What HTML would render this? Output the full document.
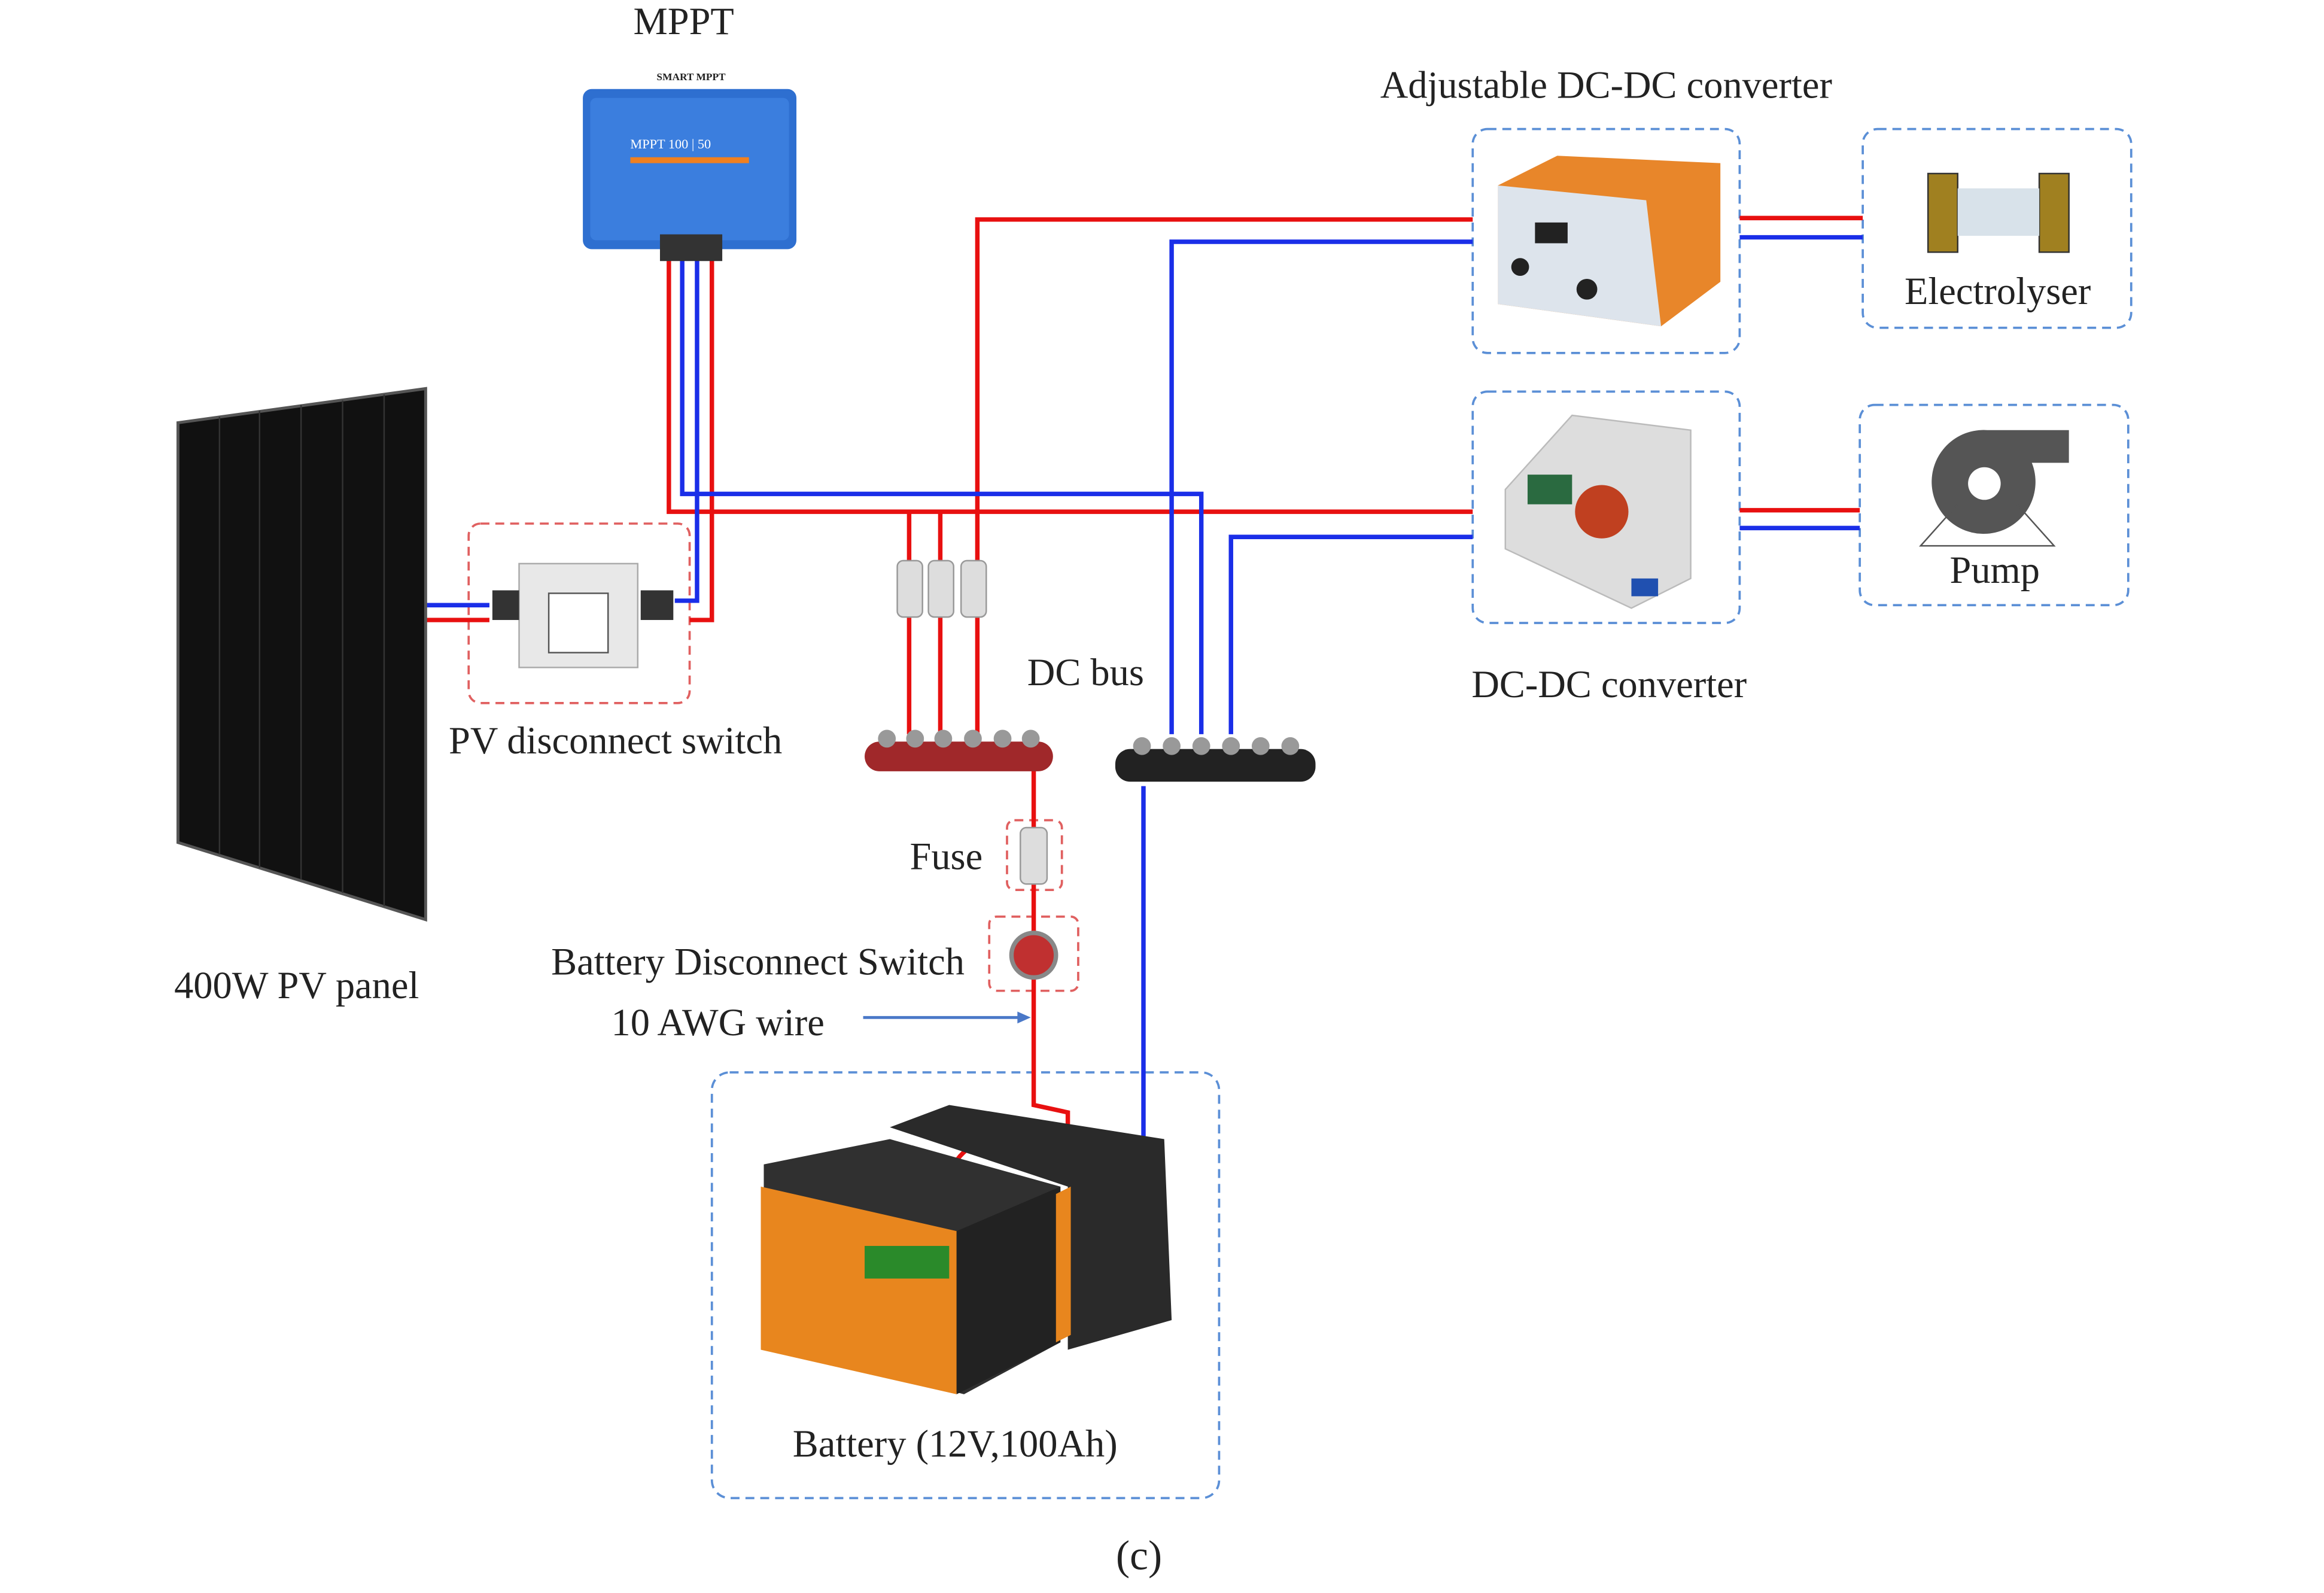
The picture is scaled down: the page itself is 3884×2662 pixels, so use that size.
<!DOCTYPE html>
<html><head><meta charset="utf-8"><style>
html,body{margin:0;padding:0;background:#fff;}
svg{display:block;}
text{font-family:"Liberation Serif",serif;fill:#222;}
</style></head><body>
<svg width="3884" height="2662" viewBox="0 0 1567 1074" preserveAspectRatio="none" xmlns="http://www.w3.org/2000/svg">
<rect width="1567" height="1074" fill="#fff"/>
<g font-size="26">
<text x="461" y="23" text-anchor="middle">MPPT</text>
<text x="1083" y="66" text-anchor="middle">Adjustable DC-DC converter</text>
<text x="1347" y="205" text-anchor="middle">Electrolyser</text>
<text x="1085" y="470" text-anchor="middle">DC-DC converter</text>
<text x="1345" y="393" text-anchor="middle">Pump</text>
<text x="200" y="673" text-anchor="middle">400W PV panel</text>
<text x="415" y="508" text-anchor="middle">PV disconnect switch</text>
<text x="732" y="462" text-anchor="middle">DC bus</text>
<text x="638" y="586" text-anchor="middle">Fuse</text>
<text x="511" y="657" text-anchor="middle">Battery Disconnect Switch</text>
<text x="484" y="698" text-anchor="middle">10 AWG wire</text>
<text x="644" y="982" text-anchor="middle">Battery (12V,100Ah)</text>
<text x="768" y="1058" text-anchor="middle" font-size="28">(c)</text>
</g>
<g fill="none" stroke-dasharray="6,4" stroke-width="1.5">
<rect x="993" y="87" width="180" height="151" rx="10" stroke="#5b8fd6"/>
<rect x="1256" y="87" width="181" height="134" rx="10" stroke="#5b8fd6"/>
<rect x="993" y="264" width="180" height="156" rx="10" stroke="#5b8fd6"/>
<rect x="1254" y="273" width="181" height="135" rx="10" stroke="#5b8fd6"/>
<rect x="480" y="723" width="342" height="287" rx="12" stroke="#5b8fd6"/>
<rect x="316" y="353" width="149" height="121" rx="8" stroke="#e06060"/>
<rect x="679" y="553" width="37" height="47" rx="5" stroke="#e06060"/>
<rect x="667" y="618" width="60" height="50" rx="5" stroke="#e06060"/>
</g>
<g fill="none" stroke-width="3">
<polyline stroke="#e81010" points="451,175 451,345 993,345"/>
<polyline stroke="#e81010" points="613,345 613,495"/>
<polyline stroke="#e81010" points="634,345 634,495"/>
<polyline stroke="#e81010" points="993,148 659,148 659,495"/>
<polyline stroke="#e81010" points="480,175 480,418 465,418"/>
<polyline stroke="#e81010" points="287,418 330,418"/>
<polyline stroke="#e81010" points="697,515 697,745 720,750 720,770"/>
<path stroke="#e81010" d="M640,800 C640,760 700,760 720,770"/>
<polyline stroke="#1a2ee8" points="460,175 460,333 810,333 810,495"/>
<polyline stroke="#1a2ee8" points="993,163 790,163 790,495"/>
<polyline stroke="#1a2ee8" points="993,362 830,362 830,495"/>
<polyline stroke="#1a2ee8" points="470,175 470,405 455,405"/>
<polyline stroke="#1a2ee8" points="287,408 330,408"/>
<path stroke="#1a2ee8" d="M771,530 L771,770 C771,800 720,800 700,785"/>
<line stroke="#e81010" x1="1173" y1="147" x2="1256" y2="147"/>
<line stroke="#1a2ee8" x1="1173" y1="160" x2="1256" y2="160"/>
<line stroke="#e81010" x1="1173" y1="344" x2="1254" y2="344"/>
<line stroke="#1a2ee8" x1="1173" y1="356" x2="1254" y2="356"/>
</g>
<line x1="582" y1="686" x2="690" y2="686" stroke="#4a78c8" stroke-width="2"/>
<polygon points="695,686 686,682 686,690" fill="#4a78c8"/>
<polygon points="120,285 287,262 287,620 120,568" fill="#111" stroke="#555" stroke-width="2"/>
<g stroke="#333" stroke-width="1">
<line x1="148" y1="281" x2="148" y2="576"/><line x1="175" y1="277" x2="175" y2="585"/>
<line x1="203" y1="273" x2="203" y2="593"/><line x1="231" y1="270" x2="231" y2="602"/>
<line x1="259" y1="266" x2="259" y2="611"/>
</g>
<rect x="393" y="60" width="144" height="108" rx="6" fill="#2e6fd0"/>
<rect x="398" y="66" width="134" height="96" rx="4" fill="#3b7ede"/>
<text x="466" y="54" font-size="7" text-anchor="middle" font-family="Liberation Sans" font-weight="bold">SMART MPPT</text>
<text x="425" y="100" font-size="9" font-family="Liberation Sans" style="fill:#fff">MPPT 100 | 50</text>
<rect x="425" y="106" width="80" height="4" fill="#f08020"/>
<rect x="445" y="158" width="42" height="18" fill="#333"/>
<polygon points="1010,125 1050,105 1160,110 1160,190 1120,220 1010,205" fill="#e8862a"/>
<polygon points="1010,125 1110,135 1120,220 1010,205" fill="#dde4ec"/>
<rect x="1035" y="150" width="22" height="14" fill="#222"/>
<circle cx="1025" cy="180" r="6" fill="#222"/><circle cx="1070" cy="195" r="7" fill="#222"/>
<rect x="1300" y="117" width="20" height="53" fill="#a08020" stroke="#333"/>
<rect x="1375" y="117" width="20" height="53" fill="#a08020" stroke="#333"/>
<rect x="1320" y="127" width="55" height="32" fill="#d8e2ea"/>
<polygon points="1015,330 1060,280 1140,290 1140,390 1100,410 1015,370" fill="#ddd" stroke="#bbb"/>
<circle cx="1080" cy="345" r="18" fill="#c04020"/><rect x="1030" y="320" width="30" height="20" fill="#2a6a40"/>
<rect x="1100" y="390" width="18" height="12" fill="#2050b0"/>
<path d="M1340,290 L1395,290 L1395,312 L1370,312 A35,35 0 1 1 1340,290 Z" fill="#555"/>
<circle cx="1338" cy="326" r="11" fill="#fff"/>
<polygon points="1295,368 1320,340 1360,340 1385,368" fill="none" stroke="#555"/>
<rect x="350" y="380" width="80" height="70" fill="#e8e8e8" stroke="#aaa"/>
<rect x="370" y="400" width="40" height="40" fill="#fff" stroke="#555"/>
<rect x="332" y="398" width="18" height="20" fill="#333"/><rect x="432" y="398" width="22" height="20" fill="#333"/>
<g fill="#ddd" stroke="#999">
<rect x="605" y="378" width="17" height="38" rx="4"/><rect x="626" y="378" width="17" height="38" rx="4"/><rect x="648" y="378" width="17" height="38" rx="4"/>
<rect x="688" y="558" width="18" height="38" rx="4"/>
</g>
<circle cx="697" cy="644" r="15" fill="#c03030" stroke="#888" stroke-width="3"/>
<rect x="583" y="500" width="127" height="20" rx="10" fill="#a0282a"/>
<rect x="752" y="505" width="135" height="22" rx="10" fill="#222"/>
<g fill="#999">
<circle cx="598" cy="498" r="6"/><circle cx="617" cy="498" r="6"/><circle cx="636" cy="498" r="6"/><circle cx="656" cy="498" r="6"/><circle cx="676" cy="498" r="6"/><circle cx="695" cy="498" r="6"/>
<circle cx="770" cy="503" r="6"/><circle cx="790" cy="503" r="6"/><circle cx="810" cy="503" r="6"/><circle cx="830" cy="503" r="6"/><circle cx="850" cy="503" r="6"/><circle cx="870" cy="503" r="6"/>
</g>
<polygon points="600,760 640,745 785,768 790,890 720,910 720,800" fill="#2a2a2a"/>
<polygon points="515,785 600,768 715,800 715,905 650,940 515,905" fill="#303030"/>
<polygon points="513,800 645,830 645,940 513,910" fill="#e8861e"/>
<polygon points="645,830 715,800 715,905 645,940" fill="#222"/>
<rect x="583" y="840" width="57" height="22" fill="#2a8a2a"/>
<polygon points="712,805 722,800 722,900 712,905" fill="#e8861e"/>
</svg>
</body></html>
